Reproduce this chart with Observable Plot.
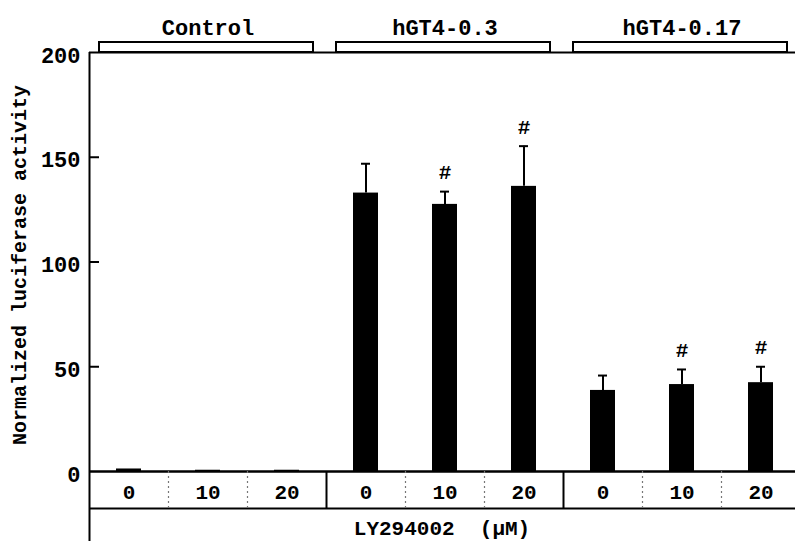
<!DOCTYPE html>
<html>
<head>
<meta charset="utf-8">
<script src="https://cdn.jsdelivr.net/npm/d3@7"></script>
<script src="https://cdn.jsdelivr.net/npm/@observablehq/plot@0.6"></script>
<style>
  html, body { margin: 0; padding: 0; background: white; overflow: hidden; }
</style>
</head>
<body>
<div id="chart"></div>
<script>
const groups = ["Control", "hGT4-0.3", "hGT4-0.17"];
const doses = ["0", "10", "20"];
const values = [1.2, 0.6, 0.6, 132.9, 127.5, 136.1, 38.7, 41.5, 42.4];
const errors = [0, 0, 0, 14.0, 6.1, 19.2, 7.1, 7.2, 7.6];
const significant = [false, false, false, false, true, true, false, true, true];
const yTicks = [0, 50, 100, 150, 200];
const yLabel = "Normalized luciferase activity";
const xLabel = "LY294002  (\u03BCM)";

const data = [];
groups.forEach((g, gi) => doses.forEach((d, di) => {
  const i = gi * doses.length + di;
  data.push({key: g + "|" + d, group: g, dose: d, di, value: values[i], err: errors[i], sig: significant[i]});
}));
const keys = data.map(d => d.key);

const width = 810, marginLeft = 89, marginRight = 10;
const bw = (width - marginLeft - marginRight) / keys.length;
const groupMid = groups.map(g => ({group: g, key: g + "|" + doses[1]}));
const font = "'Liberation Mono', 'Courier New', monospace";

const chart = Plot.plot({
  width, height: 541,
  marginLeft, marginRight, marginTop: 52, marginBottom: 70,
  style: {fontFamily: font, fontWeight: "bold", fontSize: "20px", background: "white", maxWidth: "none"},
  x: {type: "band", domain: keys, padding: 0, axis: null},
  y: {domain: [0, 200]},
  marks: [
    // bars
    Plot.barY(data, {x: "key", y: "value", fill: "black", insetLeft: (bw - 25) / 2, insetRight: (bw - 25) / 2}),
    // error bars
    Plot.ruleX(data.filter(d => d.err > 0), {x: "key", y1: "value", y2: d => d.value + d.err, stroke: "black", strokeWidth: 2}),
    Plot.tickY(data.filter(d => d.err > 0), {x: "key", y: d => d.value + d.err, stroke: "black", strokeWidth: 2, insetLeft: (bw - 9) / 2, insetRight: (bw - 9) / 2}),
    Plot.text(data.filter(d => d.sig), {x: "key", y: d => d.value + d.err, text: () => "#", dy: -19, fontSize: 21, fill: "black"}),
    // frame lines
    Plot.ruleY([0], {stroke: "black", strokeWidth: 2.5}),
    Plot.ruleY([200], {stroke: "black", strokeWidth: 2}),
    Plot.ruleX([keys[0]], {dx: -bw / 2, y1: 200, y2: 0, insetBottom: -70, stroke: "black", strokeWidth: 2}),
    // y ticks (inward)
    Plot.tickY(yTicks.filter(t => t > 0 && t < 200), {x: () => keys[0], y: d => d, insetRight: bw - 10, stroke: "black", strokeWidth: 2}),
    Plot.axisY({ticks: yTicks, tickSize: 0, tickPadding: 9, label: null, fontSize: 22, fontWeight: "bold", dy: 3}),
    Plot.text([yLabel], {frameAnchor: "left", textAnchor: "middle", rotate: -90, dx: -70, dy: 3, text: d => d, fontSize: 20}),
    // bottom table
    Plot.ruleY([0], {dy: 37, stroke: "black", strokeWidth: 2}),
    Plot.ruleX(data.filter(d => d.di === 0 && d.group !== groups[0]), {x: "key", dx: -bw / 2, y1: 0, y2: 0, insetBottom: -37, stroke: "black", strokeWidth: 2}),
    Plot.ruleX(data.filter(d => d.di > 0), {x: "key", dx: -bw / 2, y1: 0, y2: 0, insetBottom: -37, stroke: "#777", strokeWidth: 1.2, strokeDasharray: "2,3"}),
    Plot.text(data, {x: "key", y: 0, dy: 21, text: "dose", fontSize: 21}),
    Plot.text([xLabel], {frameAnchor: "bottom", dy: 63, dx: -3, text: d => d, fontSize: 21}),
    // group brackets
    Plot.barY(groupMid, {x: "key", y1: 200, y2: 200, insetTop: -10, insetLeft: -(bw - 10), insetRight: -(bw - 13), fill: "white", stroke: "black", strokeWidth: 2}),
    Plot.text(groupMid, {x: "key", y: 200, dy: -25, text: "group", fontSize: 22})
  ]
});
document.getElementById("chart").appendChild(chart);
</script>
</body>
</html>
